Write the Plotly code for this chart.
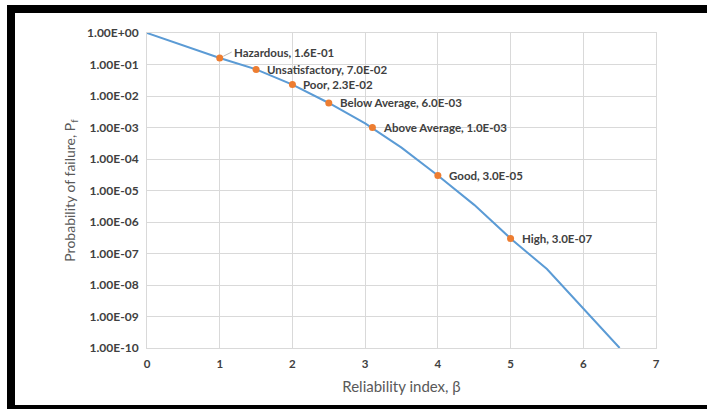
import math
import plotly.graph_objects as go

# Curve (reliability index vs probability of failure)
curve_beta = [0, 0.5, 1.0, 1.5, 2.0, 2.5, 3.0, 3.5, 4.0, 4.5, 5.0, 5.5, 6.0, 6.5]
curve_pf = [1.0, 0.4, 0.16, 0.07, 0.023, 0.006, 0.00135, 0.00023, 3.0e-5, 3.5e-6, 3.0e-7, 3.2e-8, 1.8e-9, 1.0e-10]

# Performance levels
level_names = ["Hazardous", "Unsatisfactory", "Poor", "Below Average", "Above Average", "Good", "High"]
level_beta = [1.0, 1.5, 2.0, 2.5, 3.1, 4.0, 5.0]
level_pf = [1.6e-1, 7.0e-2, 2.3e-2, 6.0e-3, 1.0e-3, 3.0e-5, 3.0e-7]
level_text = ["Hazardous, 1.6E-01", "Unsatisfactory, 7.0E-02", "Poor, 2.3E-02",
              "Below Average, 6.0E-03", "Above Average, 1.0E-03", "Good, 3.0E-05", "High, 3.0E-07"]

y_tickvals = [1e0, 1e-1, 1e-2, 1e-3, 1e-4, 1e-5, 1e-6, 1e-7, 1e-8, 1e-9, 1e-10]
y_ticktext = ["1.00E+00", "1.00E-01", "1.00E-02", "1.00E-03", "1.00E-04", "1.00E-05",
              "1.00E-06", "1.00E-07", "1.00E-08", "1.00E-09", "1.00E-10"]
x_tickvals = [0, 1, 2, 3, 4, 5, 6, 7]

FONT = "Lato"
TICK_COLOR = "#404040"
TITLE_COLOR = "#595959"
GRID = "#d9d9d9"

W, H = 707, 409
ML, MT = 147, 33
PW, PH = 509, 315
MR = W - ML - PW
MB = H - MT - PH

fig = go.Figure()
fig.add_trace(go.Scatter(x=curve_beta, y=curve_pf, mode="lines",
                         line=dict(color="#5B9BD5", width=2), showlegend=False))
fig.add_trace(go.Scatter(x=level_beta, y=level_pf, mode="markers",
                         marker=dict(color="#ED7D31", size=7), showlegend=False))

for i, (bx, py, t) in enumerate(zip(level_beta, level_pf, level_text)):
    ly = math.log10(py)
    if i == 0:
        fig.add_annotation(x=bx, y=ly, text="<b>" + t + "</b>",
                           showarrow=True, arrowhead=0, arrowwidth=0.8, arrowcolor="#a6a6a6",
                           ax=12, ay=-6, xanchor="left", yanchor="middle", standoff=4,
                           font=dict(family=FONT, size=11.5, color=TICK_COLOR))
    else:
        fig.add_annotation(x=bx, y=ly, text="<b>" + t + "</b>", showarrow=False,
                           xanchor="left", yanchor="middle", xshift=9,
                           font=dict(family=FONT, size=11.5, color=TICK_COLOR))

# black frame around the picture (top, left, bottom), positions in page pixels
def px_x(p):
    return (p - ML) / PW

def px_y(p):
    return (MT + PH - p) / PH

frame = dict(type="rect", xref="paper", yref="paper", fillcolor="black", line=dict(width=0), layer="above")
fig.add_shape(**frame, x0=px_x(7), x1=px_x(707), y0=px_y(13), y1=px_y(5))
fig.add_shape(**frame, x0=px_x(7), x1=px_x(15), y0=px_y(409), y1=px_y(5))
fig.add_shape(**frame, x0=px_x(7), x1=px_x(707), y0=px_y(409), y1=px_y(405))

fig.update_xaxes(range=[0, 7], tickvals=x_tickvals, ticktext=[f"<b>{v}</b>" for v in x_tickvals],
                 showgrid=True, gridcolor=GRID, gridwidth=1, showline=True, linecolor=GRID,
                 mirror=True, zeroline=False, ticks="", ticklabelstandoff=5,
                 tickfont=dict(family=FONT, size=11.5, color=TICK_COLOR),
                 title=dict(text="Reliability index, β", standoff=12,
                            font=dict(family=FONT, size=15, color=TITLE_COLOR)))
fig.update_yaxes(type="log", range=[-10, 0], tickvals=y_tickvals,
                 ticktext=[f"<b>{t}</b>" for t in y_ticktext],
                 showgrid=True, gridcolor=GRID, gridwidth=1, showline=True, linecolor=GRID,
                 mirror=True, zeroline=False, ticks="", ticklabelstandoff=5,
                 tickfont=dict(family=FONT, size=12, color=TICK_COLOR),
                 title=dict(text="Probability of failure, P<sub>f</sub>", standoff=8,
                            font=dict(family=FONT, size=14, color=TITLE_COLOR)))

fig.update_layout(width=W, height=H, autosize=False,
                  margin=dict(l=ML, r=MR, t=MT, b=MB, autoexpand=False),
                  paper_bgcolor="white", plot_bgcolor="white", showlegend=False)

fig.write_html("out.html", config={"displayModeBar": False},
               post_script="document.body.style.margin='0px';document.body.style.overflow='hidden';")
